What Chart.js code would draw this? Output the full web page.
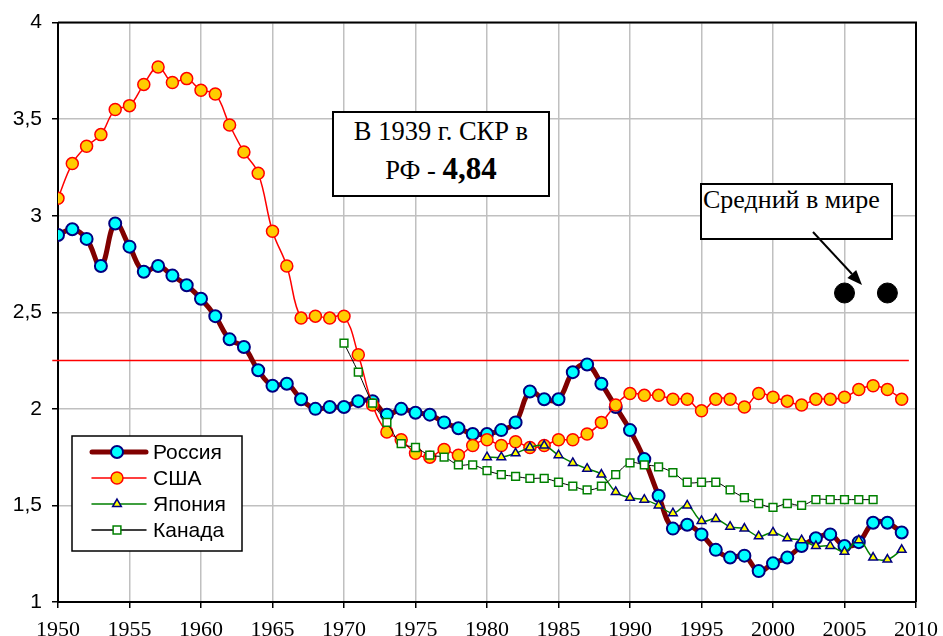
<!DOCTYPE html>
<html lang="ru">
<head>
<meta charset="utf-8">
<title>СКР</title>
<script src="https://cdn.jsdelivr.net/npm/chart.js@4.4.0/dist/chart.umd.min.js"></script>
<style>
  html, body { margin: 0; padding: 0; background: #fff; }
  #wrap { position: relative; width: 943px; height: 636px; }
  .note {
    position: absolute; box-sizing: border-box; background: #fff;
    border: 2px solid #000; font-family: "Liberation Serif", "Times New Roman", serif;
    font-size: 26px; color: #000;
  }
  #note1 { left: 332px; top: 111px; width: 218px; height: 86px; text-align: center; line-height: 37px; font-size: 26.5px; }
  #note1 b { font-size: 31px; }
  #note2 { left: 700px; top: 183px; width: 193px; height: 57px; padding: 1px 0 0 1px; line-height: 28px; white-space: nowrap; }
  #arrow { position: absolute; left: 0; top: 0; pointer-events: none; }
</style>
</head>
<body>
<div id="wrap">
  <canvas id="chart"></canvas>
  <div class="note" id="note1">В 1939 г. СКР в<br>РФ - <b>4,84</b></div>
  <div class="note" id="note2">Средний в мире</div>
  <svg id="arrow" width="943" height="636">
    <line x1="813" y1="232" x2="852" y2="274" stroke="#000" stroke-width="2"/>
    <polygon points="862,285 847.4,278.1 856.2,269.9" fill="#000"/>
  </svg>
</div>

<script>
// ===== DADOS =====
const years = [1950, 1951, 1952, 1953, 1954, 1955, 1956, 1957, 1958, 1959,
               1960, 1961, 1962, 1963, 1964, 1965, 1966, 1967, 1968, 1969,
               1970, 1971, 1972, 1973, 1974, 1975, 1976, 1977, 1978, 1979,
               1980, 1981, 1982, 1983, 1984, 1985, 1986, 1987, 1988, 1989,
               1990, 1991, 1992, 1993, 1994, 1995, 1996, 1997, 1998, 1999,
               2000, 2001, 2002, 2003, 2004, 2005, 2006, 2007, 2008, 2009];

const russia = [2.90, 2.93, 2.88, 2.74, 2.96, 2.84, 2.71, 2.74, 2.69, 2.64,
                2.57, 2.48, 2.36, 2.32, 2.20, 2.12, 2.13, 2.05, 2.00, 2.01,
                2.01, 2.04, 2.04, 1.97, 2.00, 1.98, 1.97, 1.93, 1.90, 1.87,
                1.87, 1.89, 1.93, 2.09, 2.05, 2.05, 2.19, 2.23, 2.13, 2.01,
                1.89, 1.74, 1.55, 1.38, 1.40, 1.35, 1.27, 1.23, 1.24, 1.16,
                1.20, 1.23, 1.29, 1.33, 1.35, 1.29, 1.31, 1.41, 1.41, 1.36];

const usa = [3.09, 3.27, 3.36, 3.42, 3.55, 3.57, 3.68, 3.77, 3.69, 3.71,
             3.65, 3.63, 3.47, 3.33, 3.22, 2.92, 2.74, 2.47, 2.48, 2.47,
             2.48, 2.28, 2.02, 1.88, 1.84, 1.77, 1.75, 1.79, 1.76, 1.81,
             1.84, 1.81, 1.83, 1.80, 1.81, 1.84, 1.84, 1.87, 1.93, 2.02,
             2.08, 2.07, 2.07, 2.05, 2.05, 1.99, 2.05, 2.05, 2.01, 2.08,
             2.06, 2.04, 2.02, 2.05, 2.05, 2.06, 2.10, 2.12, 2.10, 2.05];

const japanFrom = 1980;
const japan = [1.75, 1.75, 1.77, 1.80, 1.81, 1.76, 1.72, 1.69, 1.66, 1.57,
               1.54, 1.53, 1.50, 1.46, 1.50, 1.42, 1.43, 1.39, 1.38, 1.34,
               1.36, 1.33, 1.32, 1.29, 1.29, 1.26, 1.32, 1.23, 1.22, 1.27];

const canadaFrom = 1970;
const canada = [2.34, 2.19, 2.03, 1.93, 1.82, 1.80, 1.76, 1.75, 1.71, 1.71,
                1.68, 1.66, 1.65, 1.64, 1.64, 1.62, 1.60, 1.58, 1.60, 1.66,
                1.72, 1.71, 1.70, 1.67, 1.62, 1.62, 1.62, 1.58, 1.54, 1.51,
                1.49, 1.51, 1.50, 1.53, 1.53, 1.53, 1.53, 1.53];

const worldYears  = [2005, 2008];
const worldValues = [2.6, 2.6];

// linha de reposição
const refYears = [1949.6, 2009.5];
const refLevel = 2.25;

const xTicks = [1950, 1955, 1960, 1965, 1970, 1975, 1980, 1985, 1990, 1995, 2000, 2005, 2010];


// ===== HELPERS =====
const pts = (xs, ys) => xs.map((x, i) => ({ x, y: ys[i] }));
const from = y0 => years.filter(y => y >= y0);


// ===== PLUGINS =====
const moldura = {
  id: 'moldura',
  beforeDatasetsDraw(chart) {
    const { ctx, chartArea: a } = chart;
    ctx.save();
    ctx.strokeStyle = '#000';
    ctx.lineWidth = 2;
    ctx.beginPath();
    ctx.moveTo(a.left, a.top);
    ctx.lineTo(a.right, a.top);
    ctx.lineTo(a.right, a.bottom);
    ctx.stroke();
    ctx.restore();
  }
};

const legenda = {
  id: 'legenda',
  afterDraw(chart) {
    const ctx = chart.ctx;
    const itens = chart.data.datasets.filter(d => d.inLegend);
    ctx.save();
    ctx.fillStyle = '#fff';
    ctx.fillRect(72, 436, 170, 115);
    ctx.strokeStyle = '#000';
    ctx.lineWidth = 1.5;
    ctx.strokeRect(72, 436, 170, 115);

    itens.forEach((d, i) => {
      const y = 452 + i * 26;
      ctx.strokeStyle = d.borderColor;
      ctx.lineWidth = Math.max(d.borderWidth, 1.5);
      ctx.lineCap = 'round';
      ctx.beginPath();
      ctx.moveTo(92, y);
      ctx.lineTo(146, y);
      ctx.stroke();

      ctx.fillStyle = d.pointBackgroundColor;
      ctx.strokeStyle = d.pointBorderColor;
      ctx.lineWidth = d.pointBorderWidth;
      Chart.helpers.drawPoint(ctx, {
        pointStyle: d.pointStyle, radius: d.pointRadius,
        borderWidth: d.pointBorderWidth, rotation: 0
      }, 117, y);

      ctx.fillStyle = '#000';
      ctx.font = '21px "Liberation Sans", Arial, sans-serif';
      ctx.textBaseline = 'middle';
      ctx.textAlign = 'left';
      ctx.fillText(d.label, 153, y + 1);
    });
    ctx.restore();
  }
};


// ===== GRÁFICO =====
new Chart(document.getElementById('chart'), {
  type: 'line',
  data: {
    datasets: [
      {
        label: 'Россия', inLegend: true, order: 4,
        data: pts(years, russia),
        borderColor: '#800000', borderWidth: 5, tension: 0.4,
        pointStyle: 'circle', pointRadius: 6,
        pointBackgroundColor: '#00FFFF', pointBorderColor: '#000080', pointBorderWidth: 2
      },
      {
        label: 'США', inLegend: true, order: 3,
        data: pts(years, usa),
        borderColor: '#FF0000', borderWidth: 1.5, tension: 0.4,
        pointStyle: 'circle', pointRadius: 6,
        pointBackgroundColor: '#FFCC00', pointBorderColor: '#FF0000', pointBorderWidth: 1.5
      },
      {
        label: 'Япония', inLegend: true, order: 2,
        data: pts(from(japanFrom), japan),
        borderColor: '#008000', borderWidth: 1.5, tension: 0.4,
        pointStyle: 'triangle', pointRadius: 5,
        pointBackgroundColor: '#FFFF00', pointBorderColor: '#000080', pointBorderWidth: 1.5
      },
      {
        label: 'Канада', inLegend: true, order: 1,
        data: pts(from(canadaFrom), canada),
        borderColor: '#000000', borderWidth: 1, tension: 0.4,
        pointStyle: 'rect', pointRadius: 5.5,
        pointBackgroundColor: '#FFFFFF', pointBorderColor: '#008000', pointBorderWidth: 1.5
      },
      {
        label: 'Средний в мире', order: 0,
        data: pts(worldYears, worldValues),
        showLine: false,
        pointStyle: 'circle', pointRadius: 10,
        pointBackgroundColor: '#000', pointBorderColor: '#000', pointBorderWidth: 1
      },
      {
        label: 'ref', order: 10, clip: false,
        data: pts(refYears, [refLevel, refLevel]),
        borderColor: '#FF0000', borderWidth: 1.5, pointRadius: 0
      }
    ]
  },
  options: {
    responsive: true,
    maintainAspectRatio: false,
    animation: false,
    events: [],
    layout: { padding: { top: 22, right: 27, left: 0, bottom: 0 } },
    plugins: {
      legend: { display: false },
      tooltip: { enabled: false }
    },
    scales: {
      x: {
        type: 'linear', min: 1950, max: 2010,
        afterFit: s => { s.height = 34; s.paddingLeft = 0; s.paddingRight = 0; },
        afterBuildTicks: s => { s.ticks = xTicks.map(v => ({ value: v })); },
        ticks: {
          color: '#000', padding: 9, maxRotation: 0, autoSkip: false,
          font: { family: '"Liberation Serif", "Times New Roman", serif', size: 22 },
          callback: v => String(v)
        },
        grid: { color: '#C0C0C0', lineWidth: 1.5, tickLength: 6, tickColor: '#000' },
        border: { color: '#000', width: 2 }
      },
      y: {
        min: 1, max: 4,
        afterFit: s => { s.width = 58; },
        ticks: {
          stepSize: 0.5, color: '#000', padding: 10,
          font: { family: '"Liberation Sans", Arial, sans-serif', size: 21 },
          callback: v => String(v).replace('.', ',')
        },
        grid: { color: '#C0C0C0', lineWidth: 1.5, tickLength: 6, tickColor: '#000' },
        border: { color: '#000', width: 2 }
      }
    }
  },
  plugins: [moldura, legenda]
});
</script>
</body>
</html>
